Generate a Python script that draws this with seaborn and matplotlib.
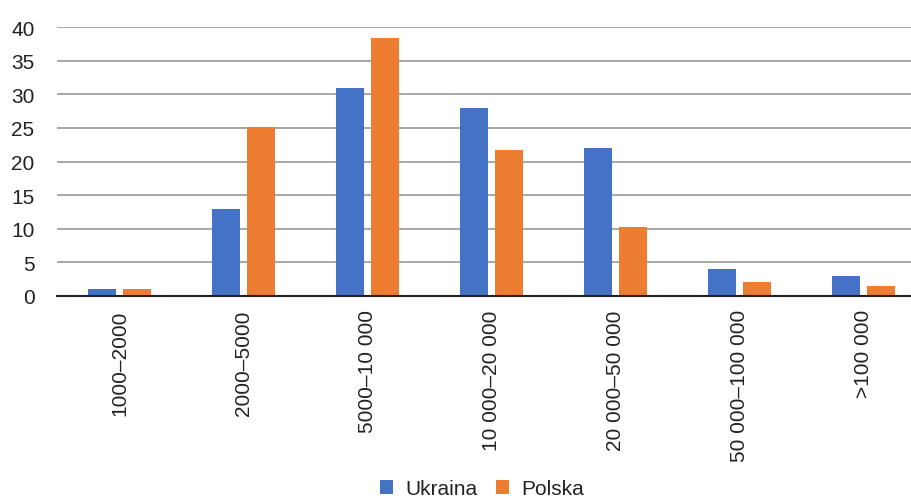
import matplotlib
matplotlib.use("Agg")
import matplotlib.pyplot as plt
import seaborn as sns
import pandas as pd

categories = ["1000–2000", "2000–5000", "5000–10 000", "10 000–20 000",
              "20 000–50 000", "50 000–100 000", ">100 000"]
ukraina = [1, 13, 31, 28, 22, 4, 3]
polska = [1, 25.2, 38.3, 21.7, 10.3, 2.1, 1.5]
series_names = ["Ukraina", "Polska"]
colors = ["#4472C4", "#ED7D31"]

df = pd.DataFrame({
    "cat": categories * 2,
    "val": ukraina + polska,
    "series": [series_names[0]] * len(categories) + [series_names[1]] * len(categories),
})

sns.set_theme(style="white")
plt.rcParams["font.family"] = ["Liberation Sans", "DejaVu Sans"]

fig = plt.figure(figsize=(9.12, 5.02), dpi=100)
ax = fig.add_axes([57.5 / 912, 205 / 502, 868 / 912, 269 / 502])

sns.barplot(data=df, x="cat", y="val", hue="series", palette=colors,
            order=categories, hue_order=series_names, saturation=1,
            width=0.565, gap=0.2, linewidth=0, ax=ax, legend=True)

ax.set_ylim(0, 40)
ax.set_xlim(-0.5, len(categories) - 0.5)
ax.set_yticks(range(0, 41, 5))
ax.yaxis.grid(True, color="#a0a0a0", linewidth=1.3)
ax.set_axisbelow(True)
for s in ["top", "right", "left"]:
    ax.spines[s].set_visible(False)
ax.spines["bottom"].set_color("#222222")
ax.spines["bottom"].set_linewidth(1.5)
ax.set_xlabel("")
ax.set_ylabel("")
ax.tick_params(axis="y", length=0, pad=16.5, labelsize=15, labelcolor="#222222")
ax.tick_params(axis="x", length=0, pad=9.5, labelsize=15, labelcolor="#222222")
plt.setp(ax.get_xticklabels(), rotation=90, va="top", ha="center")

handles, labels = ax.get_legend_handles_labels()
ax.legend_.remove()
fig.legend(handles, labels, loc="center", bbox_to_anchor=(482 / 912, 1 - 490 / 502),
           ncol=2, frameon=False, fontsize=15, handlelength=0.6, handleheight=0.65,
           handletextpad=0.6, columnspacing=0.9, labelcolor="#222222",
           borderpad=0.1)

fig.savefig("out.png", dpi=100)
